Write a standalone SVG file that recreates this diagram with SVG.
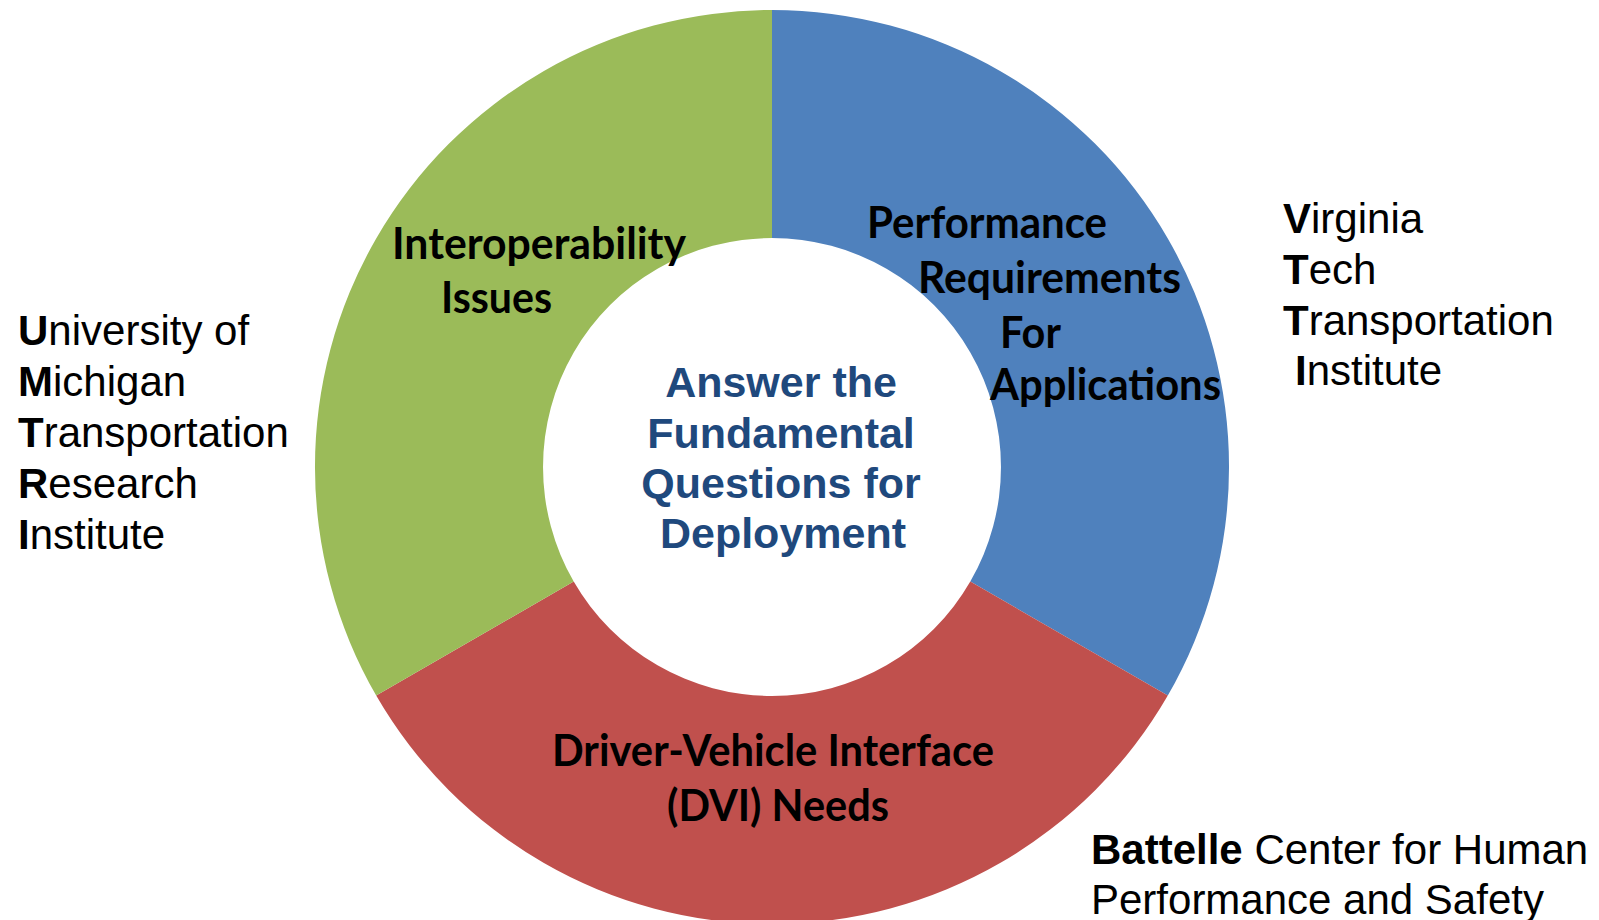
<svg xmlns="http://www.w3.org/2000/svg" width="1599" height="920" viewBox="0 0 1599 920">
  <style>
    .seg-label { font-family: Lato, "Open Sans", "Liberation Sans", sans-serif; font-weight: 700; font-size: 44px; fill: #000000; }
    .hub-label { font-family: "Liberation Sans", Arial, sans-serif; font-weight: 700; font-size: 43px; fill: #1F497D; text-anchor: middle; }
    .org { font-family: "Liberation Sans", Arial, sans-serif; font-size: 42px; fill: #000000; }
    .org .b { font-weight: 700; }
  </style>
  <rect width="1599" height="920" fill="#ffffff"/>

  <!-- Donut ring, centre (772,467), outer radius 457, inner radius 229, three equal sectors -->
  <g id="seg-performance">
    <path d="M 772 10 A 457 457 0 0 1 1167.8 695.5 L 970.3 581.5 A 229 229 0 0 0 772 238 Z" fill="#4F81BD"/>
    <text class="seg-label" lengthAdjust="spacingAndGlyphs">
      <tspan x="867" y="238" textLength="240" lengthAdjust="spacingAndGlyphs">Performance</tspan>
      <tspan x="918" y="293" textLength="263" lengthAdjust="spacingAndGlyphs">Requirements</tspan>
      <tspan x="1000" y="348" textLength="60" lengthAdjust="spacingAndGlyphs">For</tspan>
      <tspan x="990" y="400" textLength="231" lengthAdjust="spacingAndGlyphs">Applications</tspan>
    </text>
  </g>

  <g id="seg-dvi">
    <path d="M 1167.8 695.5 A 457 457 0 0 1 376.2 695.5 L 573.7 581.5 A 229 229 0 0 0 970.3 581.5 Z" fill="#C0504D"/>
    <text class="seg-label">
      <tspan x="552" y="766" textLength="442" lengthAdjust="spacingAndGlyphs">Driver-Vehicle Interface</tspan>
      <tspan x="667" y="821" textLength="222" lengthAdjust="spacingAndGlyphs">(DVI) Needs</tspan>
    </text>
  </g>

  <g id="seg-interop">
    <path d="M 376.2 695.5 A 457 457 0 0 1 772 10 L 772 238 A 229 229 0 0 0 573.7 581.5 Z" fill="#9BBB59"/>
    <text class="seg-label">
      <tspan x="392" y="259" textLength="293" lengthAdjust="spacingAndGlyphs">Interoperability</tspan>
      <tspan x="441" y="313" textLength="111" lengthAdjust="spacingAndGlyphs">Issues</tspan>
    </text>
  </g>

  <!-- Hub text -->
  <g id="hub">
    <text class="hub-label">
      <tspan x="787" y="397">Answer the</tspan>
      <tspan x="787" y="448">Fundamental</tspan>
      <tspan x="787" y="498">Questions for</tspan>
      <tspan x="783" y="548">Deployment</tspan>
    </text>
  </g>

  <!-- Partner organisations -->
  <g id="org-umtri">
    <text class="org">
      <tspan x="18" y="345"><tspan class="b">U</tspan>niversity of</tspan>
      <tspan x="18" y="396"><tspan class="b">M</tspan>ichigan</tspan>
      <tspan x="18" y="447"><tspan class="b">T</tspan>ransportation</tspan>
      <tspan x="18" y="498"><tspan class="b">R</tspan>esearch</tspan>
      <tspan x="18" y="549"><tspan class="b">I</tspan>nstitute</tspan>
    </text>
  </g>

  <g id="org-vtti">
    <text class="org">
      <tspan x="1283" y="233"><tspan class="b">V</tspan>irginia</tspan>
      <tspan x="1283" y="284"><tspan class="b">T</tspan>ech</tspan>
      <tspan x="1283" y="335"><tspan class="b">T</tspan>ransportation</tspan>
      <tspan x="1295" y="385"><tspan class="b">I</tspan>nstitute</tspan>
    </text>
  </g>

  <g id="org-battelle">
    <text class="org">
      <tspan x="1091" y="864"><tspan class="b">Battelle</tspan> Center for Human</tspan>
      <tspan x="1091" y="914">Performance and Safety</tspan>
    </text>
  </g>
</svg>
